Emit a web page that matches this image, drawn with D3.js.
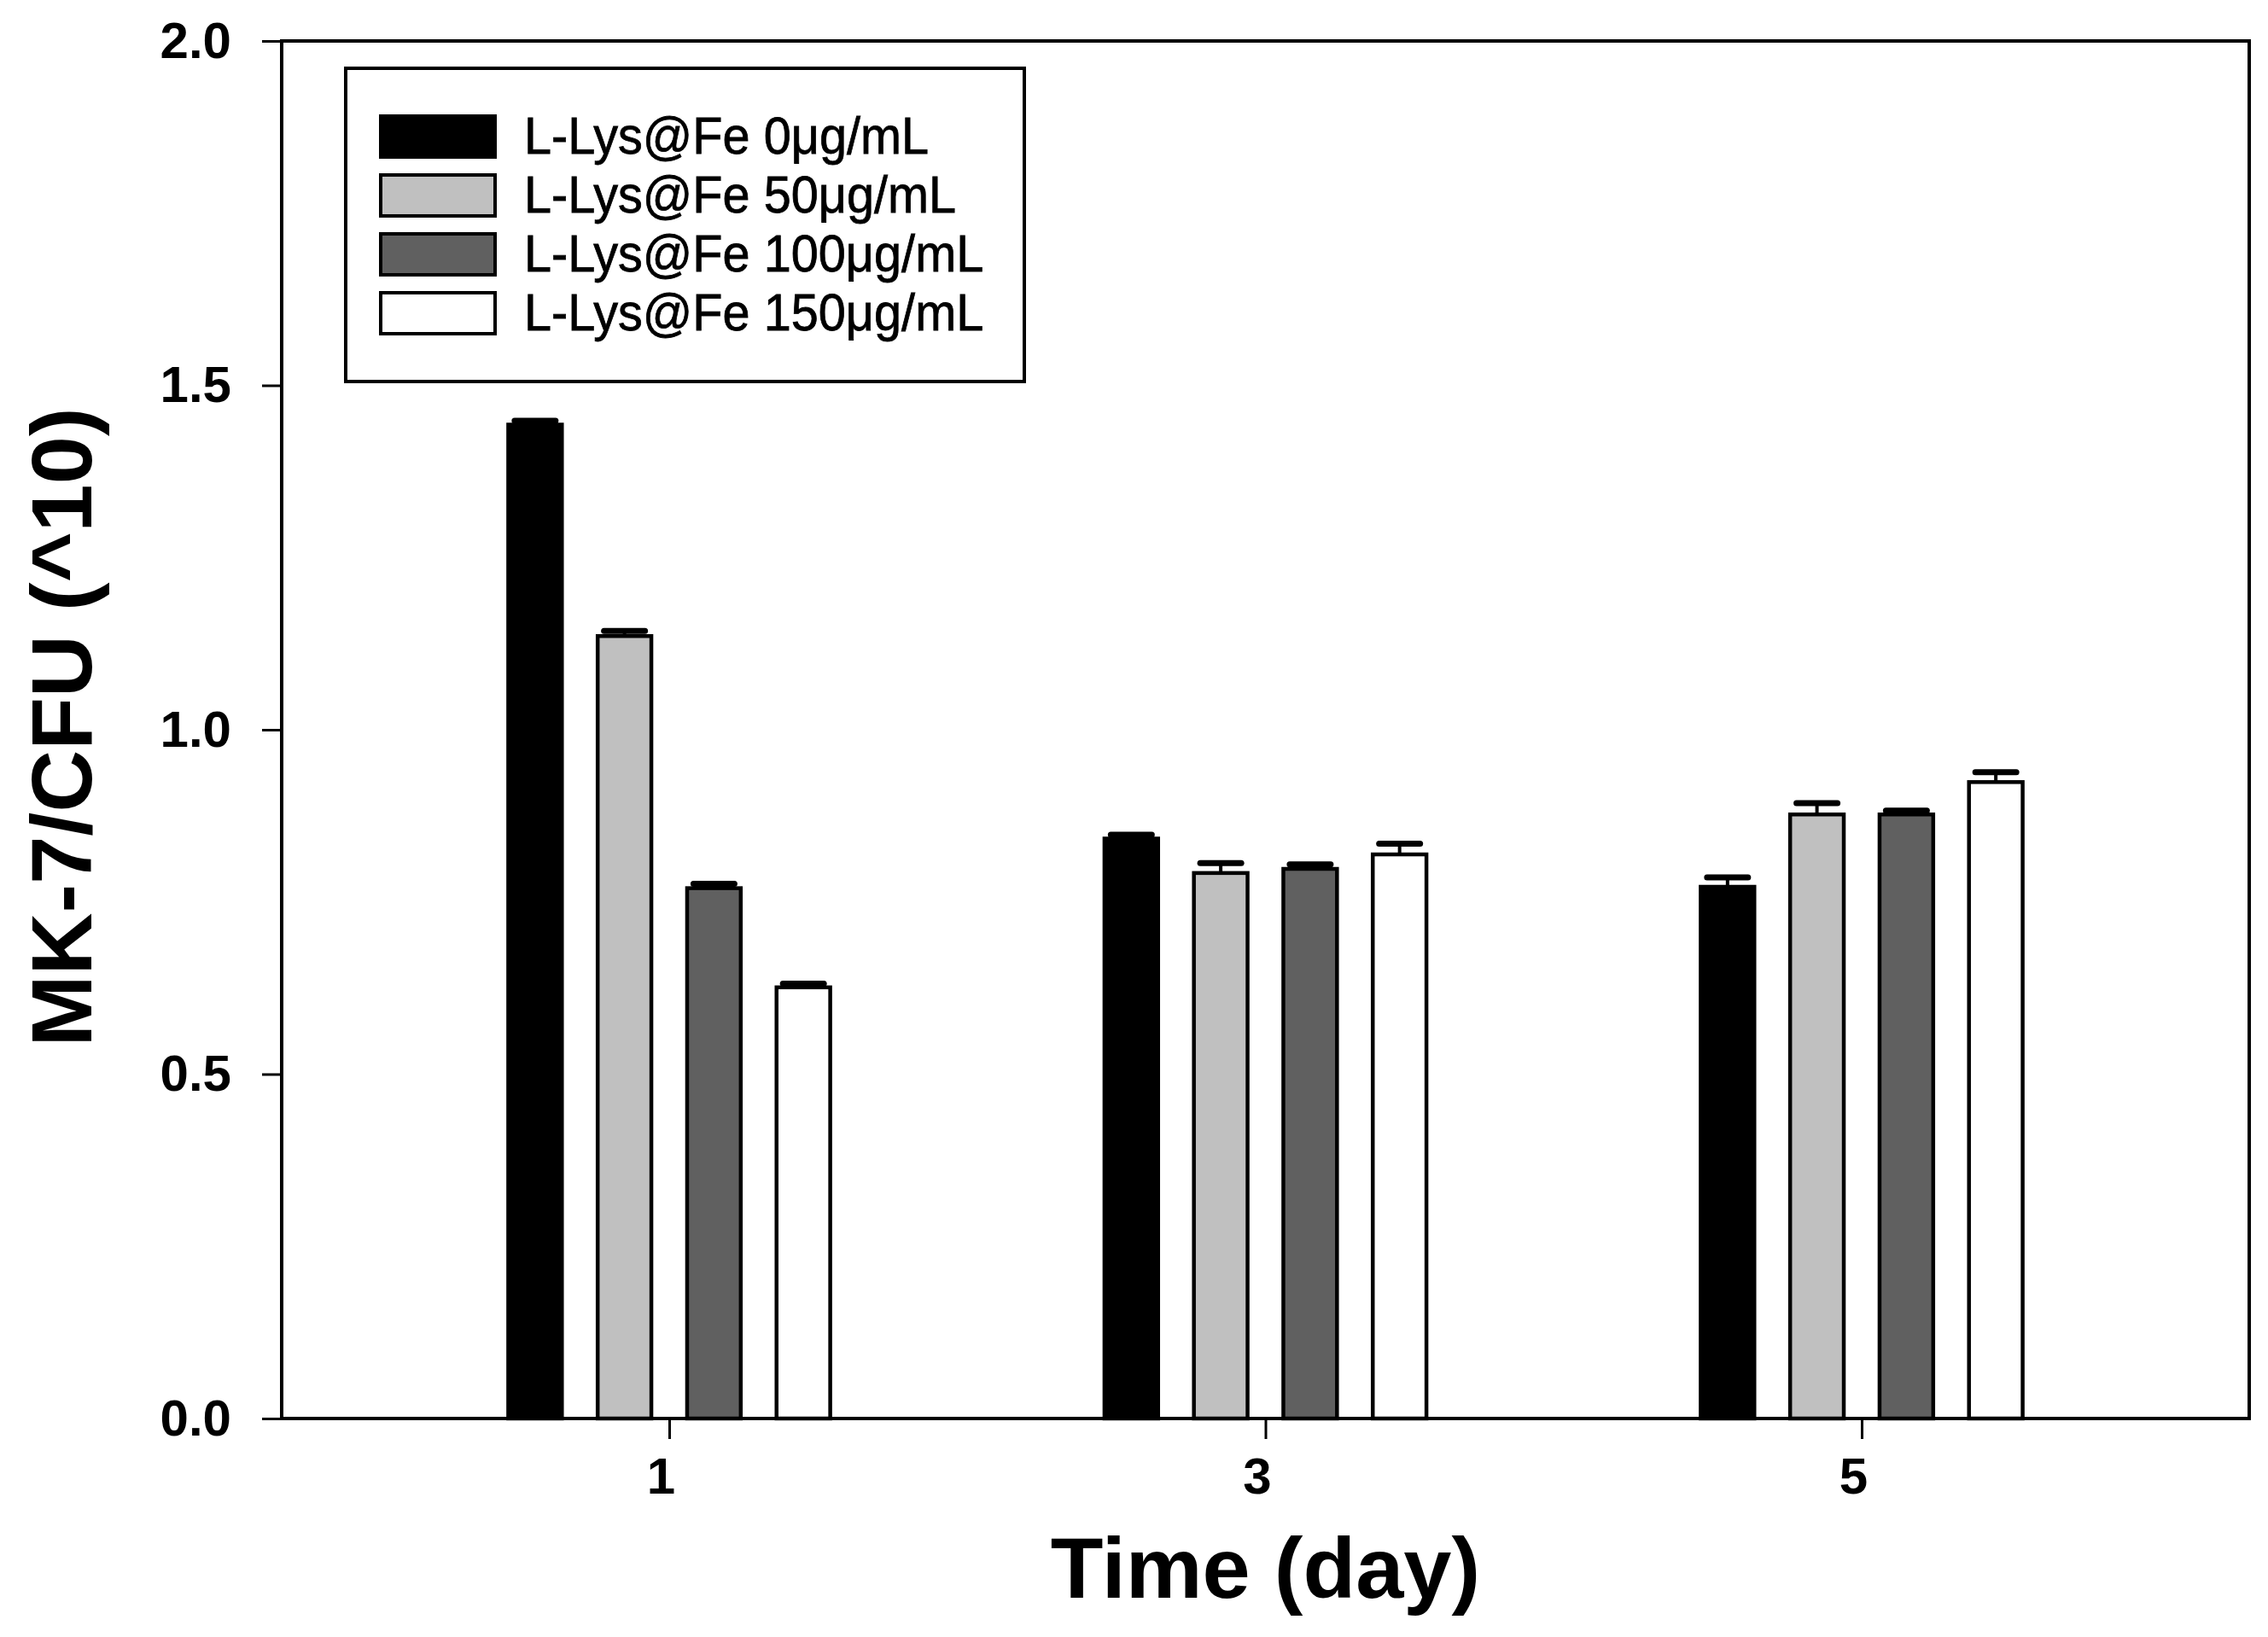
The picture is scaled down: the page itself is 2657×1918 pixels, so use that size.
<!DOCTYPE html>
<html lang="en">
<head>
	<meta charset="utf-8">
	<title>MK-7/CFU over time</title>
	<script src="https://cdn.jsdelivr.net/npm/d3@7/dist/d3.min.js"></script>
	<style>
		body { margin: 0; background: white; }
		text { font-family: "Liberation Sans", Arial, sans-serif; }
	</style>
</head>
<body>
<div id="chart"></div>
<script type="text/javascript">

	// Data
	var days = [1, 3, 5];
	var seriesNames = ["L-Lys@Fe 0μg/mL", "L-Lys@Fe 50μg/mL", "L-Lys@Fe 100μg/mL", "L-Lys@Fe 150μg/mL"];
	var seriesColors = ["#000000", "#c0c0c0", "#606060", "#ffffff"];
	var means0 = [1.443, 0.842, 0.772];
	var means50 = [1.136, 0.792, 0.877];
	var means100 = [0.770, 0.798, 0.877];
	var means150 = [0.626, 0.819, 0.924];
	var err0 = [0.003, 0.003, 0.011];
	var err50 = [0.005, 0.012, 0.014];
	var err100 = [0.004, 0.004, 0.003];
	var err150 = [0.003, 0.013, 0.012];
	var yTicks = [0.0, 0.5, 1.0, 1.5, 2.0];

	var means = [means0, means50, means100, means150];
	var errs = [err0, err50, err100, err150];

	// Flatten to one record per bar
	var bars = [];
	seriesNames.forEach(function(name, s) {
		days.forEach(function(d, i) {
			bars.push({series: s, day: d, value: means[s][i], err: errs[s][i]});
		});
	});

	// Size and margins
	var outer_width = 2657;
	var outer_height = 1918;
	var margin = {top: 48, right: 22, bottom: 256, left: 330};
	var width = outer_width - margin.left - margin.right;
	var height = outer_height - margin.top - margin.bottom;

	var svg = d3.select("#chart")
		.append("svg")
		.attr("width", outer_width)
		.attr("height", outer_height)
		.style("background", "white");

	var g = svg.append("g")
		.attr("transform", "translate(" + margin.left + "," + margin.top + ")");

	// Scales
	var xScale = d3.scaleLinear().domain([-0.3, 6.3]).range([0, width]);
	var yScale = d3.scaleLinear().domain([0, 2]).range([height, 0]);

	var slot = 0.3;        // day units between neighbouring bars
	var barW = 0.18;       // bar width in day units
	var barPx = xScale(barW) - xScale(0);

	// Bars
	g.selectAll("rect.bar")
		.data(bars)
		.enter()
		.append("rect")
		.attr("class", "bar")
		.attr("x", function(d) { return xScale(d.day + (d.series - 1.5) * slot) - barPx / 2; })
		.attr("y", function(d) { return yScale(d.value); })
		.attr("width", barPx)
		.attr("height", function(d) { return height - yScale(d.value); })
		.style("fill", function(d) { return seriesColors[d.series]; })
		.style("stroke", "black")
		.style("stroke-width", 4.5);

	// Error bars (upper only)
	var eb = g.selectAll("g.err")
		.data(bars)
		.enter()
		.append("g")
		.attr("class", "err");

	eb.append("line")
		.attr("x1", function(d) { return xScale(d.day + (d.series - 1.5) * slot); })
		.attr("x2", function(d) { return xScale(d.day + (d.series - 1.5) * slot); })
		.attr("y1", function(d) { return yScale(d.value); })
		.attr("y2", function(d) { return yScale(d.value + d.err); })
		.style("stroke", "black")
		.style("stroke-width", 4);

	eb.append("line")
		.attr("x1", function(d) { return xScale(d.day + (d.series - 1.5) * slot) - 24; })
		.attr("x2", function(d) { return xScale(d.day + (d.series - 1.5) * slot) + 24; })
		.attr("y1", function(d) { return yScale(d.value + d.err) - 2; })
		.attr("y2", function(d) { return yScale(d.value + d.err) - 2; })
		.style("stroke", "black")
		.style("stroke-width", 7)
		.style("stroke-linecap", "round");

	// Axes
	var yAxis = d3.axisLeft(yScale)
		.tickValues(yTicks)
		.tickFormat(d3.format(".1f"))
		.tickSize(23)
		.tickPadding(36);

	var xAxis = d3.axisBottom(xScale)
		.tickValues(days)
		.tickFormat(d3.format("d"))
		.tickSize(24)
		.tickPadding(21);

	var gy = g.append("g").attr("class", "axis").call(yAxis);
	var gx = g.append("g").attr("class", "axis")
		.attr("transform", "translate(0," + height + ")")
		.call(xAxis);

	[gx, gy].forEach(function(a) {
		a.select(".domain").remove();
		a.selectAll(".tick line").style("stroke", "black").style("stroke-width", 3);
		a.selectAll(".tick text")
			.style("font-size", "60px")
			.style("font-weight", "bold")
			.style("fill", "black");
	});
	// day labels sit a little left of their ticks in the original
	gx.selectAll(".tick text").attr("dx", -10);

	// Plot frame
	g.append("rect")
		.attr("x", 0)
		.attr("y", 0)
		.attr("width", width)
		.attr("height", height)
		.style("fill", "none")
		.style("stroke", "black")
		.style("stroke-width", 4);

	// Axis titles
	svg.append("text")
		.attr("x", margin.left + width / 2)
		.attr("y", 1872)
		.attr("text-anchor", "middle")
		.style("font-size", "101px")
		.style("font-weight", "bold")
		.text("Time (day)");

	svg.append("text")
		.attr("transform", "translate(107," + (margin.top + height / 2 - 3) + ") rotate(-90)")
		.attr("text-anchor", "middle")
		.style("font-size", "101px")
		.style("font-weight", "bold")
		.text("MK-7/CFU (^10)");

	// Legend
	var legend = svg.append("g").attr("transform", "translate(405,80)");
	legend.append("rect")
		.attr("width", 795)
		.attr("height", 367)
		.style("fill", "white")
		.style("stroke", "black")
		.style("stroke-width", 4);

	var items = legend.selectAll("g.item")
		.data(seriesNames)
		.enter()
		.append("g")
		.attr("class", "item")
		.attr("transform", function(d, i) { return "translate(41," + (56 + i * 69) + ")"; });

	items.append("rect")
		.attr("width", 134)
		.attr("height", 48)
		.style("fill", function(d, i) { return seriesColors[i]; })
		.style("stroke", "black")
		.style("stroke-width", 4);

	items.append("text")
		.attr("transform", "translate(168,44) scale(0.93,1)")
		.style("font-size", "62px")
		.style("fill", "black")
		.style("stroke", "black")
		.style("stroke-width", 0.8)
		.text(function(d) { return d; });

</script>
</body>
</html>
